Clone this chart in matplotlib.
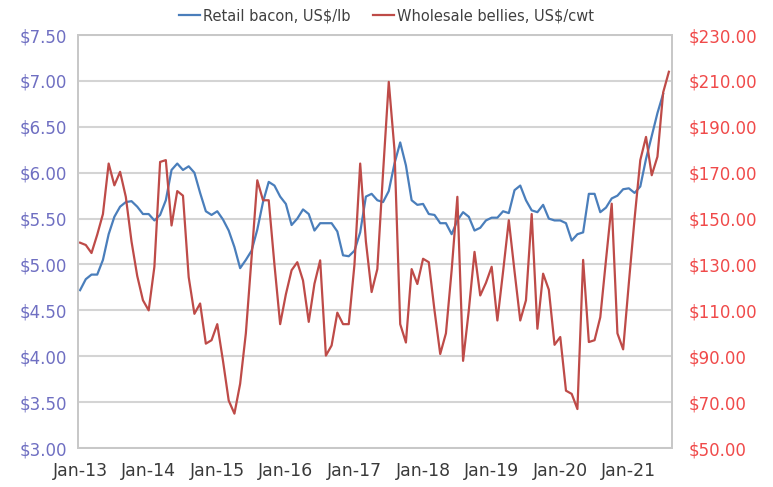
import numpy as np
import matplotlib
matplotlib.use("Agg")
import matplotlib.pyplot as plt

# monthly series, Jan-13 .. Aug-21
retail_bacon = [
    4.72, 4.84, 4.89, 4.89, 5.05, 5.33, 5.52, 5.63, 5.68, 5.69, 5.63, 5.55,
    5.55, 5.48, 5.54, 5.70, 6.03, 6.10, 6.03, 6.07, 6.00, 5.78, 5.58, 5.54,
    5.58, 5.49, 5.37, 5.19, 4.96, 5.05, 5.15, 5.38, 5.68, 5.90, 5.86, 5.74,
    5.66, 5.43, 5.50, 5.60, 5.55, 5.37, 5.45, 5.45, 5.45, 5.36, 5.10, 5.09,
    5.15, 5.35, 5.74, 5.77, 5.70, 5.68, 5.80, 6.10, 6.33, 6.08, 5.70, 5.65,
    5.66, 5.55, 5.54, 5.45, 5.45, 5.33, 5.48, 5.57, 5.52, 5.37, 5.40, 5.48,
    5.51, 5.51, 5.58, 5.56, 5.81, 5.86, 5.70, 5.59, 5.57, 5.65, 5.50, 5.48,
    5.48, 5.45, 5.26, 5.33, 5.35, 5.77, 5.77, 5.57, 5.62, 5.72, 5.75, 5.82,
    5.83, 5.78, 5.85, 6.15, 6.40, 6.65, 6.86, np.nan,
]
wholesale_bellies = [
    139.5, 138.5, 135.0, 143.0, 152.0, 174.0, 164.5, 170.4, 159.5, 140.0, 125.0, 114.4,
    110.0, 129.0, 174.7, 175.5, 147.0, 162.0, 160.0, 124.5, 108.5, 113.0, 95.5, 97.0,
    104.0, 88.0, 70.7, 65.0, 78.0, 100.0, 133.0, 166.7, 158.0, 158.0, 130.0, 104.0,
    117.0, 127.5, 131.0, 123.0, 105.0, 121.6, 131.8, 90.3, 94.7, 109.0, 104.0, 104.0,
    130.0, 174.0, 140.0, 118.0, 128.0, 170.0, 209.6, 180.0, 104.0, 96.0, 128.0, 121.5,
    132.5, 131.0, 110.0, 91.0, 100.0, 127.5, 159.5, 88.0, 110.0, 135.5, 116.5, 122.0,
    129.0, 105.6, 127.0, 149.3, 127.0, 105.6, 114.4, 152.0, 102.0, 126.0, 119.0, 95.0,
    98.4, 75.0, 73.6, 67.0, 132.0, 96.2, 97.0, 107.0, 132.0, 156.5, 100.0, 93.0,
    122.0, 150.0, 175.5, 185.6, 168.9, 177.0, 205.0, 214.0,
]
tick_labels = ["Jan-13", "Jan-14", "Jan-15", "Jan-16", "Jan-17",
               "Jan-18", "Jan-19", "Jan-20", "Jan-21"]
left_ticks = [3.0, 3.5, 4.0, 4.5, 5.0, 5.5, 6.0, 6.5, 7.0, 7.5]
right_ticks = [50, 70, 90, 110, 130, 150, 170, 190, 210, 230]

months = np.arange(len(retail_bacon))

fig = plt.figure(figsize=(7.73, 4.87), dpi=100)
ax = fig.add_axes([0.101, 0.080, 0.768, 0.848])
ax2 = ax.twinx()

blue = "#4a7ebb"
red = "#be4b48"

l1, = ax.plot(months, retail_bacon, color=blue, lw=1.6, label="Retail bacon, US$/lb")
l2, = ax2.plot(months, wholesale_bellies, color=red, lw=1.6, label="Wholesale bellies, US$/cwt")

ax.set_xlim(-0.35, 103.5)
ax.set_ylim(3.0, 7.5)
ax2.set_ylim(50, 230)

ax.set_xticks(months[::12][:len(tick_labels)])
ax.set_xticklabels(tick_labels, fontsize=12.5, color="#3a3a3a")
ax.set_yticks(left_ticks)
ax.set_yticklabels([f"${v:.2f}" for v in left_ticks], fontsize=12, color="#6f6fc2")
ax2.set_yticks(right_ticks)
ax2.set_yticklabels([f"${v:.2f}" for v in right_ticks], fontsize=12, color="#f04a4a")

ax.tick_params(axis="both", length=0, pad=8)
ax2.tick_params(axis="y", length=0, pad=12)
ax.tick_params(axis="x", pad=10)

ax.grid(True, axis="y", color="#d4d4d4", lw=1.5)
ax.set_axisbelow(True)
for a in (ax, ax2):
    for s in a.spines.values():
        s.set_color("#c8c8c8")
        s.set_linewidth(1.3)

fig.legend(handles=[l1, l2], loc="center", bbox_to_anchor=(0.5, 0.968), ncol=2,
           frameon=False, fontsize=10.5, handlelength=1.4, handletextpad=0.2,
           columnspacing=1.6, labelcolor="#404040")

fig.savefig("out.png", dpi=100)
